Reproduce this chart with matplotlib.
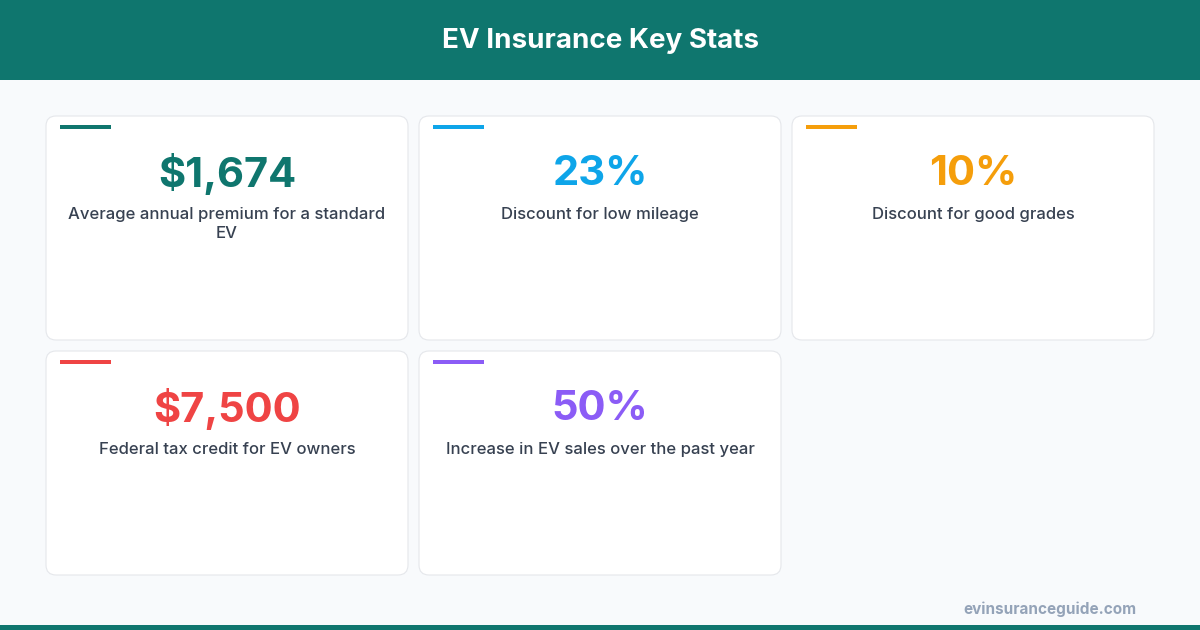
import textwrap
import matplotlib.pyplot as plt
from matplotlib.patches import FancyBboxPatch, Rectangle

title = "EV Insurance Key Stats"
values = ["$1,674", "23%", "10%", "$7,500", "50%"]
labels = [
    "Average annual premium for a standard EV",
    "Discount for low mileage",
    "Discount for good grades",
    "Federal tax credit for EV owners",
    "Increase in EV sales over the past year",
]
colors = ["#0f766e", "#0ea5e9", "#f59e0b", "#ef4444", "#8b5cf6"]
source = "evinsuranceguide.com"

teal = "#0f766e"
W, H = 1200, 630

fig = plt.figure(figsize=(12, 6.3), dpi=100)
fig.patch.set_facecolor("#f8fafc")
ax = fig.add_axes([0, 0, 1, 1])
ax.set_xlim(0, W)
ax.set_ylim(H, 0)
ax.axis("off")

# header and bottom strip
ax.add_patch(Rectangle((0, 0), W, 80, color=teal, lw=0))
ax.add_patch(Rectangle((0, 625), W, 5, color=teal, lw=0))
ax.text(W / 2, 41, title, ha="center", va="center", color="white",
        fontsize=20, fontweight="bold", family="Inter")

card_w, card_h = 362, 224
col_x = [46, 419, 792]
row_y = [116, 351]

for i, (val, lab, c) in enumerate(zip(values, labels, colors)):
    x0 = col_x[i % 3]
    y0 = row_y[i // 3]
    ax.add_patch(FancyBboxPatch((x0, y0), card_w, card_h,
                                boxstyle="round,pad=0,rounding_size=10",
                                fc="white", ec="#e5e7eb", lw=0.8))
    ax.add_patch(Rectangle((x0 + 14, y0 + 9), 51, 4, color=c, lw=0))
    ax.text(x0 + card_w / 2, y0 + 58, val, ha="center", va="center",
            color=c, fontsize=30, fontweight="bold", family="Inter")
    wrapped = "\n".join(textwrap.wrap(lab, 39))
    ax.text(x0 + card_w / 2, y0 + 91, wrapped, ha="center", va="top",
            color="#374151", fontsize=12, fontweight="medium", family="Inter",
            linespacing=1.3)

ax.text(1136, 609, source, ha="right", va="center", color="#94a3b8",
        fontsize=11, fontweight="bold", family="Inter")

fig.savefig("out.png", dpi=100, facecolor=fig.get_facecolor())
